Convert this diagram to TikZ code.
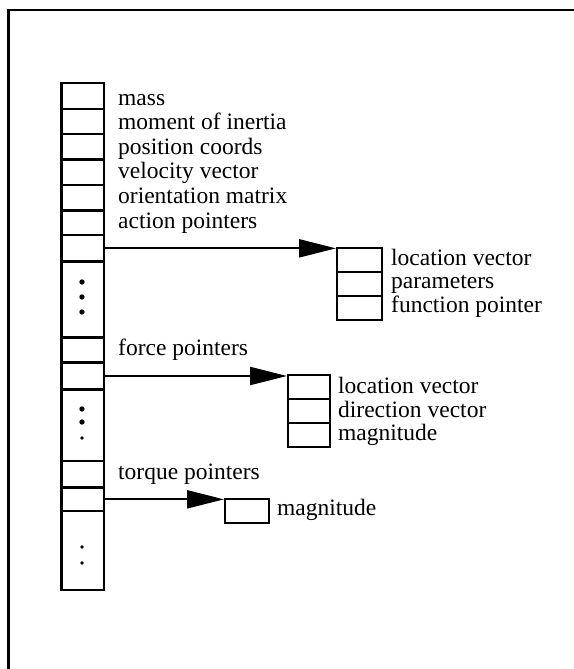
\documentclass[tikz,border=0pt]{standalone}
\usepackage{fontspec}
\setmainfont{Liberation Serif}
\usetikzlibrary{arrows.meta}
\begin{document}
\begin{tikzpicture}[x=1pt,y=-1pt,
  cellbox/.style={draw,line width=2.7pt,inner sep=0pt,outer sep=0pt,anchor=north west,minimum width=42.5pt},
  subbox/.style={draw,line width=2.5pt,inner sep=0pt,outer sep=0pt,anchor=north west,minimum height=24pt},
  lbl/.style={anchor=base west,inner sep=0pt,font=\fontsize{23.5}{27}\selectfont},
  ptr/.style={line width=2.2pt,-{Triangle[length=37pt,width=18pt]},shorten >=1pt},
  dotbig/.style={fill=black,radius=2.7pt},
  dotsmall/.style={fill=black,radius=1.8pt}]
\useasboundingbox (0,0) rectangle (573,669);
\fill[white] (0,0) rectangle (573,669);
% outer frame, running off the right and bottom edges
\draw[line width=2.6pt] (8.5,680) -- (8.5,10) -- (590,10);

% the record: a column of cells
\foreach \n/\top/\bot in {1/83/109, 2/109/134, 3/134/159.3, 4/159.3/185, 5/185/210.7,
    6/210.7/235, 7/235/261.7, 8/261.7/337.3, 9/337.3/362.7, 10/362.7/389.3,
    11/389.3/461, 12/461/487.7, 13/487.7/511, 14/511/590}
  \node[cellbox,minimum height={\bot-\top}] (c\n) at (61.5,\top) {};

% field names
\node[lbl] (lmass) at (118,105)   {mass};
\node[lbl] (lmom)  at (118,129.6) {moment of inertia};
\node[lbl] (lpos)  at (118,154.2) {position coords};
\node[lbl] (lvel)  at (118,178.8) {velocity vector};
\node[lbl] (lori)  at (118,203.4) {orientation matrix};
\node[lbl] (lact)  at (118,228)   {action pointers};
\node[lbl] (lfrc)  at (118,355)   {force pointers};
\node[lbl] (ltrq)  at (118,479)   {torque pointers};

% elided entries
\fill[dotbig] (82,282) circle;
\fill[dotbig] (82,297) circle;
\fill[dotbig] (82,312) circle;
\fill[dotbig] (82,409) circle;
\fill[dotbig] (82,422) circle;
\fill[dotsmall] (82,438) circle;
\fill[dotsmall] (82,547) circle;
\fill[dotsmall] (82,563) circle;

% action record
\node[subbox,minimum width=45pt] (a1) at (337,248) {};
\node[subbox,minimum width=45pt] (a2) at (337,272) {};
\node[subbox,minimum width=45pt] (a3) at (337,296) {};
\node[lbl] (la1) at (391,265)   {location vector};
\node[lbl] (la2) at (391,288.5) {parameters};
\node[lbl] (la3) at (391,312)   {function pointer};

% force record
\node[subbox,minimum width=42pt] (f1) at (288,375) {};
\node[subbox,minimum width=42pt] (f2) at (288,399) {};
\node[subbox,minimum width=42pt] (f3) at (288,423) {};
\node[lbl] (lf1) at (338,393) {location vector};
\node[lbl] (lf2) at (338,417) {direction vector};
\node[lbl] (lf3) at (338,440) {magnitude};

% torque record
\node[subbox,minimum width=44pt] (t1) at (225,499) {};
\node[lbl] (lt1) at (277,515) {magnitude};

% pointers
\draw[ptr] (c7.east)  -- (c7.east -| a1.west);
\draw[ptr] (c10.east) -- (c10.east -| f1.west);
\draw[ptr] (c13.east) -- (c13.east -| t1.west);
\end{tikzpicture}
\end{document}
